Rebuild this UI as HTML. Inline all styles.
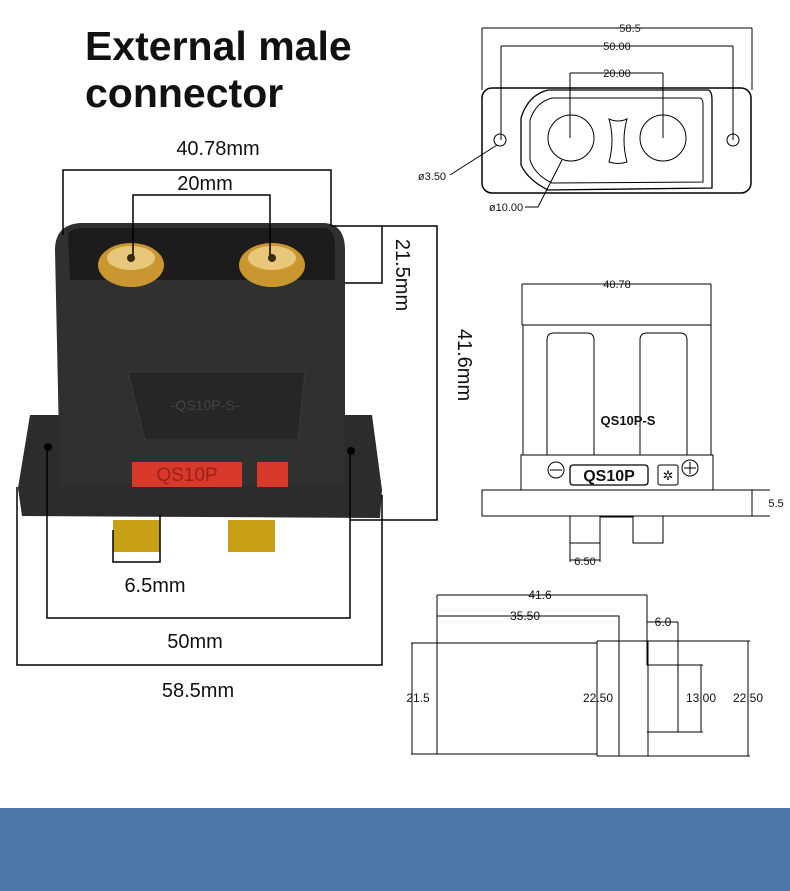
<!DOCTYPE html>
<html><head><meta charset="utf-8"><style>
html,body{margin:0;padding:0;background:#fff}
svg{display:block}
</style></head><body>
<svg width="790" height="891" viewBox="0 0 790 891" xmlns="http://www.w3.org/2000/svg" font-family="Liberation Sans, sans-serif">
<rect width="790" height="891" fill="#fff"/>
<rect x="0" y="808" width="790" height="83" fill="#4c77a7"/>
<text x="85" y="60" font-size="41" font-weight="bold" fill="#111">External male</text>
<text x="85" y="107" font-size="41" font-weight="bold" fill="#111">connector</text>

<!-- photo connector -->
<g>
<path d="M18,488 L30,415 L372,415 L382,490 L380,518 L22,516 Z" fill="#2c2c2c"/>
<path d="M55,250 Q55,225 80,223 L325,223 Q345,225 345,250 L345,485 L60,485 L55,250 Z" fill="#303030"/>
<path d="M68,235 Q70,228 85,228 L325,228 Q335,230 335,245 L335,280 L70,280 Z" fill="#1c1c1c"/>
<ellipse cx="131" cy="265" rx="33" ry="22" fill="#c9962f"/>
<ellipse cx="131" cy="258" rx="24" ry="12" fill="#e8c77a"/>
<circle cx="131" cy="258" r="4" fill="#3a2a10"/>
<ellipse cx="272" cy="265" rx="33" ry="22" fill="#c9962f"/>
<ellipse cx="272" cy="258" rx="24" ry="12" fill="#e8c77a"/>
<circle cx="272" cy="258" r="4" fill="#3a2a10"/>
<path d="M128,372 L305,372 L298,440 L145,440 Z" fill="#262626" stroke="#3a3a3a"/>
<text x="205" y="410" font-size="14" fill="#444" text-anchor="middle">-QS10P-S-</text>
<rect x="132" y="462" width="110" height="25" fill="#d8392b"/>
<text x="187" y="481" font-size="19" fill="#9a2018" text-anchor="middle">QS10P</text>
<rect x="257" y="462" width="31" height="25" fill="#d8392b"/>
<circle cx="48" cy="447" r="4" fill="#000"/>
<circle cx="351" cy="451" r="4" fill="#000"/>
<rect x="113" y="520" width="47" height="32" fill="#c9a015"/>
<rect x="228" y="520" width="47" height="32" fill="#c9a015"/>
</g>
<g stroke="#000" stroke-width="1.5" fill="none">
<path d="M63,235 V170 H331 V225"/>
<path d="M133,255 V195 H270 V255"/>
<path d="M331,226 H382 V283 H345"/>
<path d="M382,226 H437 V520 H350"/>
<path d="M113,530 V562 H160 V515"/>
<path d="M47,447 V618 H350 V450"/>
<path d="M17,487 V665 H382 V495"/>
</g>
<g font-size="20" fill="#111" text-anchor="middle">
<text x="218" y="155">40.78mm</text>
<text x="205" y="190">20mm</text>
<text x="155" y="592">6.5mm</text>
<text x="195" y="648">50mm</text>
<text x="198" y="697">58.5mm</text>
<text transform="translate(396,275) rotate(90)">21.5mm</text>
<text transform="translate(458,365) rotate(90)">41.6mm</text>
</g>

<!-- top drawing -->
<g stroke="#000" stroke-width="1" fill="none">
<path d="M482,28 H752 M482,28 V90 M752,28 V90"/>
<path d="M501,46 H733 M501,46 V140 M733,46 V140"/>
<path d="M570,73 H663 M570,73 V138 M663,73 V138"/>
<rect x="482" y="88" width="269" height="105" rx="10" stroke-width="1.5"/>
<path d="M548,90 L708,90 Q712,91 712,100 L712,188 L548,190 Q528,180 521,165 L521,118 Q528,95 548,90 Z" stroke-width="1.3"/>
<path d="M552,98 L700,98 Q703,99 703,104 L703,182 L552,183 Q535,175 530,160 L530,120 Q536,102 552,98 Z"/>
<circle cx="571" cy="138" r="23"/>
<circle cx="663" cy="138" r="23"/>
<circle cx="500" cy="140" r="6"/>
<circle cx="733" cy="140" r="6"/>
<path d="M609,119 Q618,123 627,119 Q621,140 627,162 Q618,165 609,162 Q615,140 609,119 Z"/>
<path d="M450,175 L497,145"/>
<path d="M525,207 H538 L562,160"/>
</g>
<g font-size="11" fill="#111" text-anchor="middle">
<text x="630" y="32" fill="#222">58.5</text>
<text x="617" y="50">50.00</text>
<text x="617" y="77">20.00</text>
<text x="432" y="180">ø3.50</text>
<text x="506" y="211">ø10.00</text>
</g>

<!-- middle drawing -->
<g stroke="#000" stroke-width="1" fill="none">
<path d="M522,284 H711 M522,284 V325 M711,284 V325"/>
<path d="M522,325 H711 M523,325 V455 M711,325 V455"/>
<path d="M547,455 V340 Q547,333 554,333 H587 Q594,333 594,340 V455"/>
<path d="M640,455 V340 Q640,333 647,333 H680 Q687,333 687,340 V455"/>
<rect x="521" y="455" width="192" height="35"/>
<circle cx="556" cy="470" r="8"/>
<path d="M550,470 H562"/>
<rect x="570" y="465" width="78" height="20" rx="3" stroke-width="1.3"/>
<rect x="658" y="465" width="20" height="20" rx="2"/>
<circle cx="690" cy="468" r="8"/>
<path d="M684,468 H696 M690,462 V474"/>
<rect x="482" y="490" width="270" height="26"/>
<path d="M752,490 H770 M752,516 H770"/>
<path d="M570,516 V543 H600 V517 H633 V543 H663 V516"/>
<path d="M570,543 V562 M600,543 V562 M570,560 H600"/>
</g>
<g fill="#111" text-anchor="middle">
<text x="617" y="288" font-size="11">40.78</text>
<text x="628" y="425" font-size="13" font-weight="bold">QS10P-S</text>
<text x="609" y="481" font-size="16" font-weight="bold">QS10P</text>
<text x="668" y="480" font-size="13">✲</text>
<text x="776" y="507" font-size="11">5.5</text>
<text x="585" y="565" font-size="11">6.50</text>
</g>

<!-- bottom drawing -->
<g stroke="#000" stroke-width="1" fill="none">
<path d="M437,595 H647 M437,595 V754"/>
<path d="M437,616 H619 V756"/>
<path d="M647,622 H678"/>
<path d="M411,643 H597 M411,754 H597"/>
<path d="M412,643 V754"/>
<path d="M597,641 H750 M597,756 H750 M597,641 V756 M648,641 V756"/>
<path d="M647,595 V665 H678 V622 M678,665 V732 H647"/>
<path d="M678,665 H703 M678,732 H703 M701,665 V732"/>
<path d="M748,641 V756"/>
</g>
<g font-size="12" fill="#111" text-anchor="middle">
<text x="540" y="599">41.6</text>
<text x="525" y="620">35.50</text>
<text x="663" y="626">6.0</text>
<text x="418" y="702">21.5</text>
<text x="598" y="702">22.50</text>
<text x="701" y="702">13.00</text>
<text x="748" y="702">22.50</text>
</g>
</svg>
</body></html>
